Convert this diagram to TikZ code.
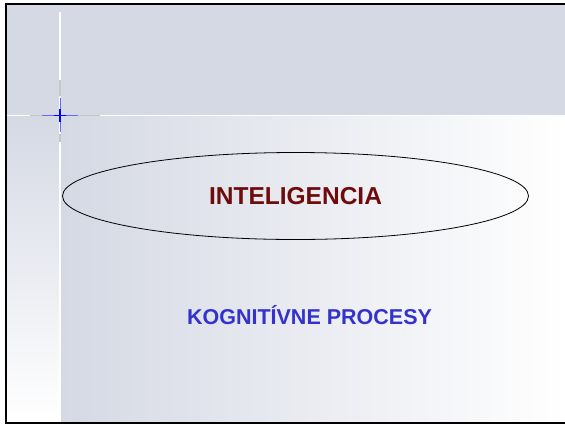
\documentclass[tikz,border=0pt]{standalone}
\usepackage{fontspec}
\setmainfont{Liberation Sans}
\usetikzlibrary{shapes.geometric}
\definecolor{bandc}{RGB}{213,217,228}
\definecolor{titlec}{RGB}{110,12,12}
\definecolor{subc}{RGB}{51,51,204}
\begin{document}
\begin{tikzpicture}[x=1pt,y=-1pt]
\tikzstyle{every node}+=[inner sep=0pt]
\tikzstyle{oval}=[draw=black,line width=0.8pt,ellipse,minimum width=466pt,minimum height=87pt]
\useasboundingbox (0,0) rectangle (565,424);
\clip (0,0) rectangle (565,424);
\fill [white] (0,0) rectangle (565,424);
\fill [bandc] (6,4) rectangle (566,116);
\shade [left color=bandc,right color=white] (60,116) rectangle (566,422);
\shade [top color=bandc,bottom color=white] (6,116) rectangle (60,422);
\draw [white,line width=1.6pt] (6,115.5) -- (566,115.5);
\draw [white,line width=1.4pt] (60,12) -- (60,422);
\draw [gray!45,line width=1.6pt] (30,115.5) -- (42,115.5);
\draw [gray!45,line width=1.6pt] (78,115.5) -- (100,115.5);
\draw [gray!45,line width=1.4pt] (60,80) -- (60,96);
\draw [gray!45,line width=1.4pt] (60,134) -- (60,142);
\draw [blue!60,line width=0.8pt] (42,115.5) -- (78,115.5);
\draw [blue!60,line width=0.8pt] (60,98) -- (60,132);
\draw [blue,line width=1.2pt] (54,115.5) -- (66,115.5);
\draw [blue,line width=1.2pt] (60,109) -- (60,122);
\node [oval] (intel) at (295.5,196) {\fontsize{24.5}{29}\selectfont\bfseries\color{titlec}INTELIGENCIA};
\node [anchor=base] (kog) at (309.5,324) {\fontsize{21.5}{26}\selectfont\bfseries\color{subc}KOGNITÍVNE PROCESY};
\draw [black,line width=2pt] (6.3,4.3) rectangle (570,422.7);
\end{tikzpicture}
\end{document}
